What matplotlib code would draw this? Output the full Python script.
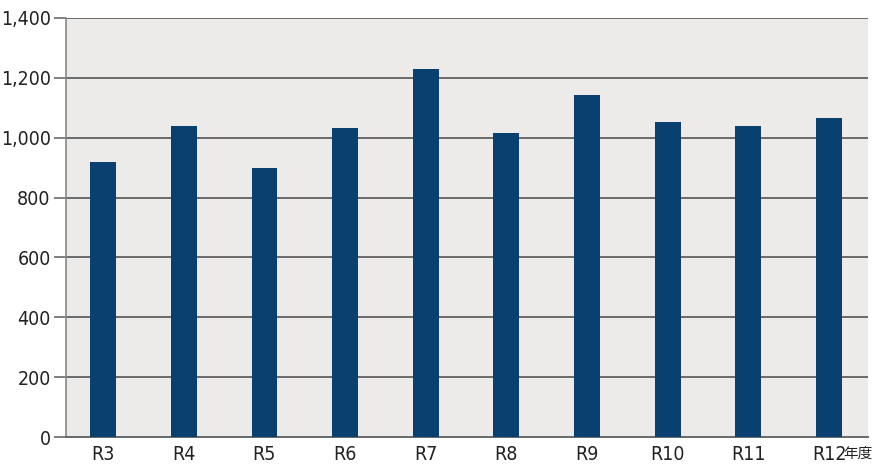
import matplotlib
matplotlib.use('Agg')
import matplotlib.pyplot as plt

years = ['R3', 'R4', 'R5', 'R6', 'R7', 'R8', 'R9', 'R10', 'R11', 'R12']
values = [920, 1038, 900, 1034, 1230, 1016, 1143, 1053, 1040, 1066]
yticks = [0, 200, 400, 600, 800, 1000, 1200, 1400]
unit_label = '年度'

plt.rcParams['font.family'] = ['DejaVu Sans', 'Noto Sans CJK JP']
plt.rcParams['font.stretch'] = 'condensed'

fig = plt.figure(figsize=(8.73, 4.66), dpi=100)
ax = fig.add_axes([0.0756, 0.0622, 0.9184, 0.8992])
ax.set_facecolor('#ecebe9')

x = list(range(len(years)))
ax.bar(x, values, width=0.32, color='#0a406f', zorder=3)

ax.set_xlim(-0.46, 9.48)
ax.set_ylim(0, 1400)
ax.set_yticks(yticks)
ax.set_yticklabels(['{:,}'.format(v) for v in yticks], fontsize=14, color='#222222')
ax.set_xticks(x)
ax.set_xticklabels(years, fontsize=14, color='#222222')

ax.grid(axis='y', color='#6a6a6a', linewidth=1.4, zorder=1)
ax.tick_params(axis='y', length=9, width=1.2, color='#6a6a6a', pad=2)
ax.tick_params(axis='x', length=0, pad=6)

for s in ['top', 'right']:
    ax.spines[s].set_visible(False)
ax.spines['left'].set_color('#888888')
ax.spines['left'].set_linewidth(1.2)
ax.spines['bottom'].set_color('#6a6a6a')
ax.spines['bottom'].set_linewidth(1.4)

ax.annotate(unit_label, xy=(9, 0), xycoords='data', xytext=(10.5, -7),
            textcoords='offset points', ha='left', va='top',
            fontsize=10.5, color='#222222', family=['Noto Sans CJK JP'],
            annotation_clip=False)

fig.savefig('out.png', dpi=100)
